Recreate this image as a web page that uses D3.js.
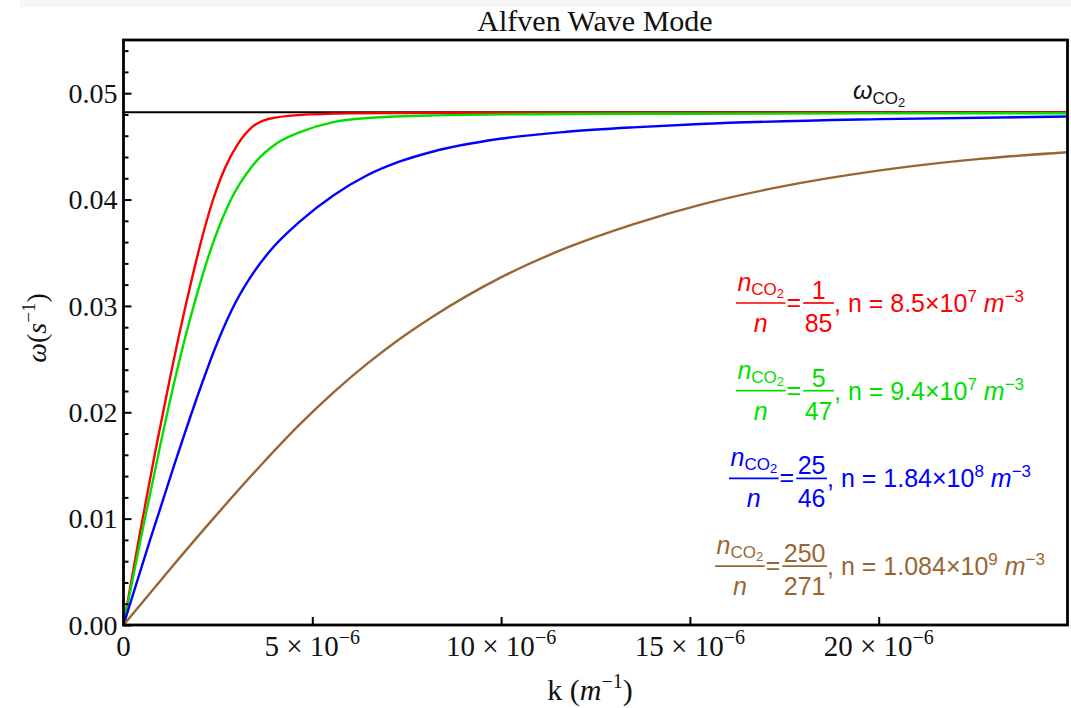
<!DOCTYPE html>
<html>
<head>
<meta charset="utf-8">
<script src="https://cdn.jsdelivr.net/npm/d3@7"></script>
<style>
  body { margin: 0; background: #fff; }
  svg { display: block; }
</style>
</head>
<body>
<svg id="chart" width="1071" height="708"></svg>
<script>
// Wavenumber k in units of 1e-6 m^-1, frequency omega in s^-1
const kTicks = [0, 5, 10, 15, 20];
const omegaTicks = [0, 0.01, 0.02, 0.03, 0.04, 0.05];
const omegaMinorTicks = d3.range(1, 28).map(i => +(i * 0.002).toFixed(3)).filter(v => Math.abs(v * 100 - Math.round(v * 100)) > 1e-9);
const omegaCO2 = 0.0482;

const redK = [0, 0.437, 0.834, 1.231, 1.674, 2.079, 2.336, 2.688, 3.040, 3.395, 3.835, 4.621, 6.0, 8.647, 25];
const redW = [0, 0.00869, 0.01617, 0.02322, 0.03046, 0.03639, 0.03958, 0.04297, 0.04528, 0.04679, 0.04757, 0.04794, 0.04810, 0.04816, 0.04818];

const greenK = [0, 0.437, 0.967, 1.364, 1.875, 2.423, 2.820, 3.395, 4.100, 4.674, 5.556, 6.441, 8.197, 11.737, 15.268, 25];
const greenW = [0, 0.00776, 0.01678, 0.02313, 0.03021, 0.03643, 0.03982, 0.04308, 0.04538, 0.04634, 0.04728, 0.04766, 0.04791, 0.04804, 0.04807, 0.04812];

const blueK = [0, 0.702, 1.364, 2.026, 2.423, 2.873, 3.350, 3.880, 4.674, 5.556, 6.441, 7.322, 8.204, 9.971, 11.737, 13.501, 15.268, 20.034, 25];
const blueW = [0, 0.00797, 0.01526, 0.02219, 0.02600, 0.02967, 0.03263, 0.03517, 0.03794, 0.04038, 0.04226, 0.04358, 0.04452, 0.04571, 0.04637, 0.04679, 0.04710, 0.04756, 0.04781];

const brownK = [0, 1.231, 2.423, 3.615, 4.674, 5.548, 6.448, 7.322, 8.197, 9.971, 11.745, 13.493, 15.268, 17.387, 20.034, 22.682, 25];
const brownW = [0, 0.00525, 0.01019, 0.01493, 0.01888, 0.02183, 0.02455, 0.02691, 0.02901, 0.03264, 0.03547, 0.03767, 0.03950, 0.04119, 0.04274, 0.04382, 0.04444];

const seriesColors = ["#ff0000", "#00e000", "#0000ff", "#996633"];
const ratioNum = ["1", "5", "25", "250"];
const ratioDen = ["85", "47", "46", "271"];
const densityMantissa = ["8.5", "9.4", "1.84", "1.084"];
const densityExp = ["7", "7", "8", "9"];

const series = [
  { k: redK, w: redW, color: seriesColors[0] },
  { k: greenK, w: greenW, color: seriesColors[1] },
  { k: blueK, w: blueW, color: seriesColors[2] },
  { k: brownK, w: brownW, color: seriesColors[3] }
];

const svg = d3.select("#chart");
const serif = "'Liberation Serif', 'Times New Roman', serif";
const sans = "'Liberation Sans', Arial, sans-serif";

// faint strip along the top edge of the page
svg.append("rect").attr("x", 20).attr("y", 0).attr("width", 1051).attr("height", 7).attr("fill", "#f6f6f6");

const x = d3.scaleLinear().domain([0, 25]).range([123.5, 1067.5]);
const y = d3.scaleLinear().domain([0, 0.055]).range([625, 40]);

svg.append("clipPath").attr("id", "plotClip")
  .append("rect").attr("x", x(0)).attr("y", y(0.055)).attr("width", x(25) - x(0)).attr("height", y(0) - y(0.055));

// reference frequency line
svg.append("line")
  .attr("x1", x(0)).attr("x2", x(25))
  .attr("y1", y(omegaCO2)).attr("y2", y(omegaCO2))
  .attr("stroke", "#000").attr("stroke-width", 2);

// dispersion curves
const line = d3.line().x(d => x(d[0])).y(d => y(d[1])).curve(d3.curveMonotoneX);
const curves = svg.append("g").attr("clip-path", "url(#plotClip)");
series.forEach(s => {
  curves.append("path")
    .attr("d", line(s.k.map((k, i) => [k, s.w[i]])))
    .attr("fill", "none")
    .attr("stroke", s.color)
    .attr("stroke-width", 2.4)
    .attr("stroke-linejoin", "round");
});

// frame
svg.append("rect")
  .attr("x", x(0)).attr("y", y(0.055))
  .attr("width", x(25) - x(0)).attr("height", y(0) - y(0.055))
  .attr("fill", "none").attr("stroke", "#000").attr("stroke-width", 2.8);

// y ticks (inward) and labels
const yMajor = svg.append("g").attr("transform", `translate(${x(0)},0)`)
  .call(d3.axisRight(y).tickValues(omegaTicks).tickSize(8).tickFormat(""));
const yMinor = svg.append("g").attr("transform", `translate(${x(0)},0)`)
  .call(d3.axisRight(y).tickValues(omegaMinorTicks).tickSize(5).tickFormat(""));
[yMajor, yMinor].forEach(g => {
  g.select(".domain").remove();
  g.selectAll("line").attr("stroke", "#000").attr("stroke-width", 2);
});
const yLabels = svg.append("g").attr("transform", `translate(${x(0) - 6},0)`)
  .call(d3.axisLeft(y).tickValues(omegaTicks).tickSize(0).tickPadding(0).tickFormat(d3.format(".2f")));
yLabels.select(".domain").remove();
yLabels.selectAll("text")
  .attr("font-family", serif).attr("font-size", 28).attr("fill", "#111")
  .attr("dy", "0.33em");

// x ticks (inward) and labels
const xMajor = svg.append("g").attr("transform", `translate(0,${y(0)})`)
  .call(d3.axisTop(x).tickValues(kTicks.slice(1)).tickSize(8).tickFormat(""));
xMajor.select(".domain").remove();
xMajor.selectAll("line").attr("stroke", "#000").attr("stroke-width", 2);

const xLabels = svg.append("g");
kTicks.forEach(k => {
  const t = xLabels.append("text")
    .attr("x", x(k)).attr("y", 656)
    .attr("text-anchor", "middle")
    .attr("font-family", serif).attr("font-size", 29).attr("fill", "#111");
  if (k === 0) {
    t.text("0");
  } else {
    t.append("tspan").text(`${k} × 10`);
    t.append("tspan").attr("dy", -12).attr("font-size", 20).text("\u22126");
  }
});

// axis titles
const xTitle = svg.append("text")
  .attr("x", 590).attr("y", 700).attr("text-anchor", "middle")
  .attr("font-family", serif).attr("font-size", 30).attr("fill", "#111");
xTitle.append("tspan").text("k (");
xTitle.append("tspan").attr("font-style", "italic").text("m");
xTitle.append("tspan").attr("dy", -12).attr("font-size", 20).text("\u22121");
xTitle.append("tspan").attr("dy", 12).text(")");

const yTitle = svg.append("text")
  .attr("transform", "translate(46,328) rotate(-90)")
  .attr("text-anchor", "middle")
  .attr("font-family", serif).attr("font-size", 28).attr("fill", "#111");
yTitle.append("tspan").attr("font-style", "italic").text("ω");
yTitle.append("tspan").text("(");
yTitle.append("tspan").attr("font-style", "italic").text("s");
yTitle.append("tspan").attr("dy", -11).attr("font-size", 19).text("\u22121");
yTitle.append("tspan").attr("dy", 11).text(")");

// title
svg.append("text")
  .attr("x", 595).attr("y", 31).attr("text-anchor", "middle")
  .attr("font-family", serif).attr("font-size", 30).attr("fill", "#111")
  .text("Alfven Wave Mode");

// label for the reference line
const wLabel = svg.append("text")
  .attr("x", 853).attr("y", 99)
  .attr("font-family", sans).attr("font-size", 25).attr("fill", "#111");
wLabel.append("tspan").attr("font-style", "italic").text("ω");
wLabel.append("tspan").attr("dy", 5).attr("font-size", 17).text("CO");
wLabel.append("tspan").attr("dy", 3).attr("font-size", 13).text("2");

// legend: density ratio and total density for each curve
const legend = svg.append("g");
const fs = 25;
function widthOf(sel) { return sel.node().getBBox().width; }
function nCO2(g, y0) {
  const t = g.append("text").attr("y", y0).attr("font-family", sans).attr("font-size", fs);
  t.append("tspan").attr("font-style", "italic").text("n");
  t.append("tspan").attr("dy", 4).attr("font-size", 17).text("CO");
  t.append("tspan").attr("dy", 3).attr("font-size", 13).text("2");
  return t;
}
seriesColors.forEach((color, i) => {
  const barY = 303 + i * 87.7;
  const g = legend.append("g").attr("fill", color);
  // first fraction
  const numA = nCO2(g, barY - 12);
  const denA = g.append("text").attr("y", barY + 29).attr("font-family", sans).attr("font-size", fs)
    .attr("font-style", "italic").attr("text-anchor", "middle").text("n");
  const wA = Math.max(widthOf(numA), widthOf(denA)) + 3;
  numA.attr("x", 1.5);
  denA.attr("x", wA / 2);
  g.append("line").attr("x1", 0).attr("x2", wA).attr("y1", barY).attr("y2", barY)
    .attr("stroke", color).attr("stroke-width", 1.7);
  let cx = wA;
  const eq = g.append("text").attr("x", cx + 1).attr("y", barY + 8).attr("font-family", sans).attr("font-size", fs).text("=");
  cx += widthOf(eq) + 3;
  // second fraction
  const numB = g.append("text").attr("y", barY - 4).attr("font-family", sans).attr("font-size", fs)
    .attr("text-anchor", "middle").text(ratioNum[i]);
  const denB = g.append("text").attr("y", barY + 29).attr("font-family", sans).attr("font-size", fs)
    .attr("text-anchor", "middle").text(ratioDen[i]);
  const wB = Math.max(widthOf(numB), widthOf(denB)) + 3;
  numB.attr("x", cx + wB / 2);
  denB.attr("x", cx + wB / 2);
  g.append("line").attr("x1", cx).attr("x2", cx + wB).attr("y1", barY).attr("y2", barY)
    .attr("stroke", color).attr("stroke-width", 1.7);
  cx += wB;
  // density text
  const rest = g.append("text").attr("x", cx).attr("y", barY + 9).attr("font-family", sans).attr("font-size", fs);
  rest.append("tspan").text(`, n = ${densityMantissa[i]}×10`);
  rest.append("tspan").attr("dy", -10).attr("font-size", 17).text(densityExp[i]);
  rest.append("tspan").attr("dy", 10).text(" ");
  rest.append("tspan").attr("font-style", "italic").text("m");
  rest.append("tspan").attr("dy", -10).attr("font-size", 17).text("\u22123");
  const total = cx + widthOf(rest);
  g.attr("transform", `translate(${880 - total / 2},0)`);
});
</script>
</body>
</html>
